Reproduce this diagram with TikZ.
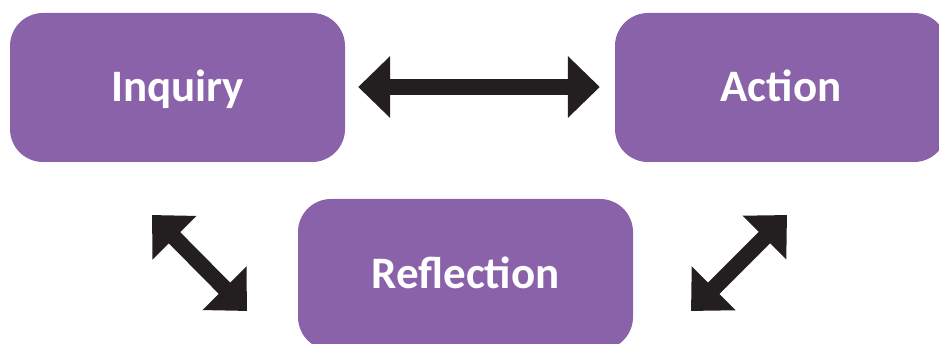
\documentclass[tikz,border=0pt]{standalone}
\usepackage{fontspec}
\setmainfont{Carlito}
\usetikzlibrary{arrows.meta}
\definecolor{boxpurple}{HTML}{8A62AA}
\definecolor{arrowblack}{HTML}{231F20}
\tikzset{
  stagebox/.style={fill=boxpurple, draw=none, rounded corners=33pt, text=white,
    font=\fontsize{45}{50}\selectfont\bfseries, text height=28.5pt, text depth=0pt,
    inner sep=0pt},
  dblarrow/.style={draw=arrowblack, line width=16pt,
    {Triangle[length=32pt,width=60pt,fill=arrowblack]}-{Triangle[length=32pt,width=60pt,fill=arrowblack]}}
}
\begin{document}
\begin{tikzpicture}[x=1pt,y=-1pt]
\useasboundingbox (0,0) rectangle (939,344);
\clip (0,0) rectangle (939,344);
\node[stagebox, minimum width=335pt, minimum height=149pt] (inq) at (177.5,87.5) {Inquiry};
\node[stagebox, minimum width=332pt, minimum height=149pt] (act) at (781,87.5) {Action};
\node[stagebox, minimum width=335pt, minimum height=151pt] (ref) at (465.5,274.5) {Reflection};
\coordinate (l1) at (152,215);
\coordinate (l2) at (247,311);
\coordinate (r1) at (787,215);
\coordinate (r2) at (691,311);
\draw[dblarrow, shorten <=13pt, shorten >=15pt] (inq.east |- 0,87) -- (act.west |- 0,87);
\draw[dblarrow] (l1) -- (l2);
\draw[dblarrow] (r1) -- (r2);
\end{tikzpicture}
\end{document}
